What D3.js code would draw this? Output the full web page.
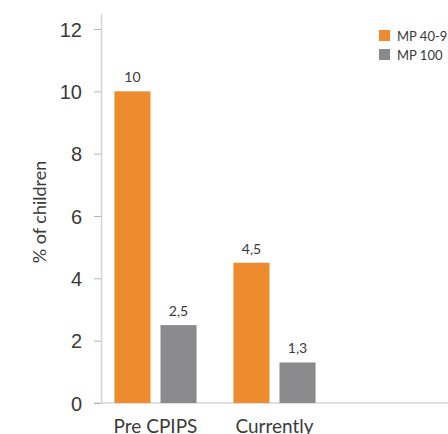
<!DOCTYPE html>
<html>
<head>
<meta charset="utf-8">
<script src="https://cdn.jsdelivr.net/npm/d3@7/dist/d3.min.js"></script>
<style>
  html, body { margin: 0; padding: 0; background: #fff; }
  svg { display: block; font-family: "Lato", "Open Sans", sans-serif; }
</style>
</head>
<body>
<svg id="chart" width="448" height="434"></svg>
<script>
// Share of children, by period and programme
const categories = ["Pre CPIPS", "Currently"];
const seriesNames = ["MP 40-9", "MP 100"];
const mp409 = [10, 4.5];
const mp100 = [2.5, 1.3];
const valueLabels409 = ["10", "4,5"];
const valueLabels100 = ["2,5", "1,3"];
const yTicks = [0, 2, 4, 6, 8, 10, 12];
const colors = ["#EE8B2F", "#8A8A8C"];

const rows = categories.map((c, i) => ({
  category: c,
  values: [
    { series: seriesNames[0], value: mp409[i], label: valueLabels409[i] },
    { series: seriesNames[1], value: mp100[i], label: valueLabels100[i] }
  ]
}));

const svg = d3.select("#chart");
const axisX = 101, baseY = 403;

const y = d3.scaleLinear().domain([0, 12]).range([baseY, 29]);
const x0 = d3.scaleBand().domain(categories).range([96, 334])
  .paddingInner(0.31).paddingOuter(0.155);
const x1 = d3.scaleBand().domain(seriesNames).range([0, x0.bandwidth()])
  .paddingInner(0.217);
const color = d3.scaleOrdinal().domain(seriesNames).range(colors);

// baseline across the plot
svg.append("line")
  .attr("x1", 94).attr("x2", 448)
  .attr("y1", baseY).attr("y2", baseY)
  .attr("stroke", "#d6d6d6").attr("stroke-width", 1.5);

// vertical value axis
const yAxis = d3.axisLeft(y).tickValues(yTicks).tickSize(7).tickPadding(12)
  .tickFormat(d3.format("d"));
const gy = svg.append("g").attr("transform", `translate(${axisX},0)`).call(yAxis);
gy.select(".domain").remove();
gy.selectAll(".tick line").attr("stroke", "#b5b5b5").attr("stroke-width", 1);
gy.selectAll(".tick text")
  .attr("fill", "#3a3a3a").attr("font-size", 20).attr("dy", "0.36em");
svg.append("line")
  .attr("x1", axisX + 0.5).attr("x2", axisX + 0.5)
  .attr("y1", 14).attr("y2", baseY)
  .attr("stroke", "#d6d6d6").attr("stroke-width", 1.5);

// axis title
svg.append("text")
  .attr("transform", `translate(46,${212}) rotate(-90)`)
  .attr("text-anchor", "middle")
  .attr("fill", "#3a3a3a").attr("font-size", 18)
  .text("% of children");

// bars
const groups = svg.append("g").selectAll("g").data(rows).join("g")
  .attr("transform", d => `translate(${x0(d.category)},0)`);

groups.selectAll("rect").data(d => d.values).join("rect")
  .attr("x", d => x1(d.series))
  .attr("width", x1.bandwidth())
  .attr("y", d => y(d.value))
  .attr("height", d => y(0) - y(d.value))
  .attr("fill", d => color(d.series));

groups.selectAll("text.val").data(d => d.values).join("text")
  .attr("class", "val")
  .attr("x", d => x1(d.series) + x1.bandwidth() / 2)
  .attr("y", d => y(d.value) - 9)
  .attr("text-anchor", "middle")
  .attr("fill", "#3a3a3a").attr("font-size", 14)
  .text(d => d.label);

// category labels
svg.append("g").selectAll("text").data(categories).join("text")
  .attr("x", d => x0(d) + x0.bandwidth() / 2)
  .attr("y", 433)
  .attr("text-anchor", "middle")
  .attr("fill", "#3a3a3a").attr("font-size", 19)
  .text(d => d);

// legend
const legend = svg.append("g").selectAll("g").data(seriesNames).join("g")
  .attr("transform", (d, i) => `translate(379,${30 + i * 19})`);
legend.append("rect").attr("width", 11).attr("height", 11)
  .attr("fill", d => color(d));
legend.append("text").attr("x", 18).attr("y", 10.5)
  .attr("fill", "#3a3a3a").attr("font-size", 13)
  .text(d => d);
</script>
</body>
</html>
